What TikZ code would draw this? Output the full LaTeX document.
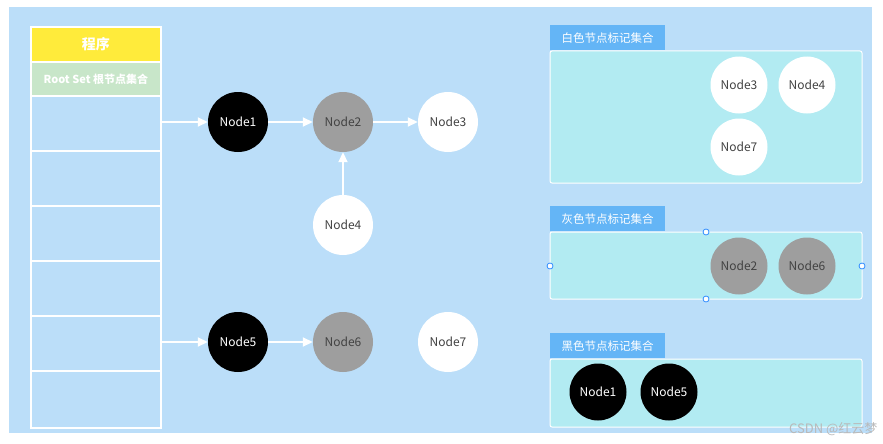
\documentclass[tikz,border=0pt]{standalone}
\usepackage{fontspec}
\setmainfont{Noto Sans CJK SC}
\usetikzlibrary{arrows.meta}
\definecolor{bgblue}{HTML}{BBDEF9}
\definecolor{ylw}{HTML}{FFEB3B}
\definecolor{grn}{HTML}{C8E6C9}
\definecolor{tabblue}{HTML}{64B5F6}
\definecolor{boxcyan}{HTML}{B2EBF2}
\definecolor{gnode}{HTML}{9E9E9E}
\definecolor{txtdark}{HTML}{424242}
\definecolor{handle}{HTML}{2F8CFF}
\tikzset{
  cell/.style={draw=white, line width=1.8pt, minimum width=130pt, inner sep=0pt, anchor=north west},
  nd/.style={circle, minimum size=60pt, inner sep=0pt, font=\fontsize{12}{14}\selectfont},
  snd/.style={circle, minimum size=57pt, inner sep=0pt, font=\fontsize{12}{14}\selectfont},
  blk/.style={fill=black, text=white},
  gry/.style={fill=gnode, text=txtdark},
  wht/.style={fill=white, text=txtdark},
  arr/.style={draw=white, line width=1.8pt, -{Triangle[length=10pt,width=9pt]}},
  tab/.style={fill=tabblue, text=white, minimum width=115pt, minimum height=25pt, inner sep=0pt, anchor=north west, font=\fontsize{11.5}{13}\selectfont},
  setbox/.style={fill=boxcyan, draw=white, line width=1pt, rounded corners=2pt},
  hdl/.style={circle, draw=handle, fill=white, line width=0.8pt, minimum size=6pt, inner sep=0pt}
}
\begin{document}
\begin{tikzpicture}[x=1pt,y=-1pt]
\useasboundingbox (0,0) rectangle (883,444);
\fill[white] (0,0) rectangle (883,444);
\fill[bgblue] (9,7) rectangle (872,433);
% left column
\node[cell, fill=ylw, minimum height=35pt, text=white, font=\fontsize{14}{16}\selectfont\bfseries] (prog) at (30,26) {程序};
\node[cell, fill=grn, minimum height=34pt, text=white, font=\fontsize{11}{13}\selectfont\bfseries] (root) at (30,61) {Root Set 根节点集合};
\node[cell, minimum height=55pt] (r1) at (30,95) {};
\node[cell, minimum height=55pt] (r2) at (30,150) {};
\node[cell, minimum height=55pt] (r3) at (30,205) {};
\node[cell, minimum height=55pt] (r4) at (30,260) {};
\node[cell, minimum height=55pt] (r5) at (30,315) {};
\node[cell, minimum height=57pt] (r6) at (30,370) {};
% graph
\node[nd, blk] (n1) at (238,122) {Node1};
\node[nd, gry] (n2) at (343,122) {Node2};
\node[nd, wht] (n3) at (448,122) {Node3};
\node[nd, wht] (n4) at (343,225) {Node4};
\node[nd, blk] (n5) at (238,342) {Node5};
\node[nd, gry] (n6) at (343,342) {Node6};
\node[nd, wht] (n7) at (448,342) {Node7};
\draw[arr] (r1.east |- n1) -- (n1);
\draw[arr] (n1) -- (n2);
\draw[arr] (n2) -- (n3);
\draw[arr] (n4) -- (n2);
\draw[arr] (r5.east |- n5) -- (n5);
\draw[arr] (n5) -- (n6);
% white set
\node[tab] (t1) at (550,25) {白色节点标记集合};
\draw[setbox] (550,51) rectangle (862,183);
\node[snd, wht] (w3) at (739,85) {Node3};
\node[snd, wht] (w4) at (807,85) {Node4};
\node[snd, wht] (w7) at (739,147) {Node7};
% gray set
\node[tab] (t2) at (550,206) {灰色节点标记集合};
\draw[setbox] (550,232) rectangle (862,299);
\node[snd, gry] (g2) at (739,266) {Node2};
\node[snd, gry] (g6) at (807,266) {Node6};
\node[hdl] (h1) at (706,232) {};
\node[hdl] (h2) at (706,299) {};
\node[hdl] (h3) at (550,266) {};
\node[hdl] (h4) at (862,266) {};
% black set
\node[tab] (t3) at (550,333) {黑色节点标记集合};
\draw[setbox] (550,359) rectangle (862,427);
\node[snd, blk] (b1) at (598,392) {Node1};
\node[snd, blk] (b5) at (669,392) {Node5};
% watermark
\node[text=gray!55, font=\fontsize{13}{15}\selectfont, anchor=east] (wm) at (881,429) {CSDN @红云梦};
\end{tikzpicture}
\end{document}
